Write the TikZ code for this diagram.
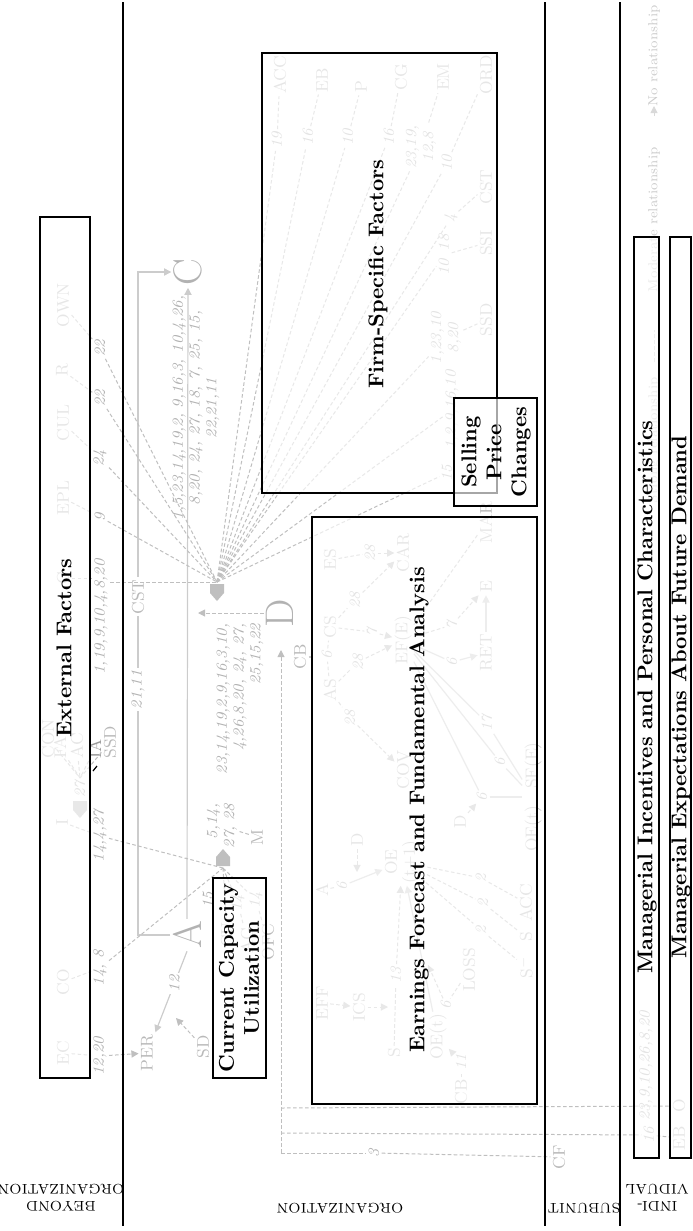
\documentclass[tikz,border=0pt]{standalone}
\usetikzlibrary{arrows.meta}
\begin{document}
\begin{tikzpicture}[x=0.5pt,y=-0.5pt,
	panel/.style={draw=black,line width=0.7pt,fill=white,fill opacity=0.65},
	heading/.style={rotate=90,font=\fontsize{10.7}{12.5}\selectfont\bfseries,align=center},
	band/.style={rotate=180,font=\fontsize{7}{8.4}\selectfont,align=center},
	bigvar/.style={rotate=90,text=gray!60,font=\fontsize{20}{20}\selectfont,inner sep=1pt},
	fac/.style={rotate=90,text=gray!55,font=\fontsize{8.5}{9}\selectfont,inner sep=1pt,align=center},
	refs/.style={rotate=90,text=gray!60,font=\fontsize{7.7}{8.4}\selectfont\itshape,inner sep=1pt,align=center},
	legend/.style={rotate=90,text=gray!40,font=\fontsize{6.6}{7}\selectfont,inner sep=0pt},
	modline/.style={gray!50,line width=0.5pt,dash pattern=on 1.8pt off 1.2pt},
	solidline/.style={gray!40,line width=0.6pt},
	arrowed/.style={-{Triangle[length=3.6pt,width=3.6pt]}},
	hubdown/.pic={\fill[gray!50] (-7,0) -- (7,0) -- (7,9) -- (0,17) -- (-7,9) -- cycle;},
]
\useasboundingbox (0,0) rectangle (692,1231);

% external factors
\node[fac] (OWN) at (63,305) {OWN};
\node[fac] (R) at (62,370) {R};
\node[fac] (CUL) at (63,423) {CUL};
\node[fac] (EPL) at (63,498) {EPL};
\node[fac] (GC) at (63,578) {C};
\node[fac,anchor=west] (CON) at (48,761) {CON};
\node[fac,anchor=west] (FA) at (60,761) {FA};
\node[fac,anchor=west] (AC) at (77,761) {AC};
\node[fac,anchor=west,text=gray!80] (IA) at (95,761) {IA};
\node[fac,anchor=west] (SSDx) at (110,761) {SSD};
\node[fac] (I) at (62,822) {I};
\node[fac] (CO) at (63,982) {CO};
\node[fac] (EC) at (63,1053) {EC};
\node[refs] (n22a) at (100,348) {22};
\node[refs] (n22b) at (100,398) {22};
\node[refs] (n24) at (100,458) {24};
\node[refs] (n9) at (100,517) {9};
\node[refs] (nGC) at (101,617) {1,19,9,10,4,8,20};
\node[refs] (n27) at (80,789) {27};
\node[refs] (n1427) at (100,836) {14,4,27};
\node[refs] (n148) at (100,968) {14, 8};
\node[refs] (n1220) at (100,1056) {12,20};
\coordinate (extHub) at (80,778);
\foreach \f in {CON,FA,AC,IA,SSDx} {\draw[modline] (\f) -- (extHub);}
\draw[black,line width=0.6pt] (97,766) -- (93,771);
\pic at (80,801) {hubdown};

% organization: main variables
\node[bigvar] (C) at (188,272) {C};
\node[bigvar] (A) at (187,935) {A};
\node[bigvar] (D) at (280,613) {D};
\coordinate (hub1) at (217,582);
\coordinate (hub2) at (223,868);
\coordinate (onAC) at (198,613);
\draw[solidline,arrowed] (A.north) -- (138,935) -- node[refs,fill=white,pos=0.37] (n2111) {21,11} node[fac,fill=white,pos=0.51] (cst) {CST} (138,272) -- (C.north);
\draw[solidline,arrowed] (A.east) -- (C.west);
\node[refs] (acnums) at (196,408) {1,5,23,14,19,2, 9,16,3, 10,4,26,\\8,20, 24, 27, 18, 7, 25, 15,\\22,21,11};
\draw[modline,arrowed] (D.north) -- (onAC);
\node[refs,align=right] (dnums) at (240,699) {23,14,19,2,9,16,3,10,\\4,26,8,20, 24, 27,\\25,15,22};
\pic at (217,584) {hubdown};

% links of the hub to the factors
\foreach \s/\f in {n22a/OWN,n22b/R,n24/CUL,n9/EPL} {
	\draw[modline] (\f) -- (\s);
	\draw[modline] (\s) -- (hub1);
}
\draw[modline] (GC) -- (GC -| nGC.north);
\draw[modline] (nGC.south |- hub1) -- (hub1);
\node[fac] (ACC) at (280,75) {ACC};
\node[fac] (EB) at (322,80) {EB};
\node[fac] (P) at (361,87) {P};
\node[fac] (CG) at (401,77) {CG};
\node[fac] (EM) at (443,77) {EM};
\node[fac] (ORD) at (486,75) {ORD};
\node[fac] (CSTf) at (486,187) {CST};
\node[fac] (SSI) at (486,243) {SSI};
\node[fac] (SSDf) at (486,320) {SSD};
\node[refs] (n19) at (277,140) {19};
\node[refs] (n16a) at (308,137) {16};
\node[refs] (n10a) at (348,137) {10};
\node[refs] (n16b) at (389,137) {16};
\node[refs] (nEM) at (421,147) {23,19,\\12,8};
\node[refs] (n10b) at (447,163) {10};
\node[refs] (n4) at (451,218) {4};
\node[refs] (n1018) at (444,255) {10\enspace 18};
\node[refs] (nSSD) at (446,338) {1,23,10\\8,20};
\node[refs] (nSP1) at (452,410) {1,2,9,16,10};
\node[refs] (nSP2) at (447,473) {15};
\foreach \s/\f in {n19/ACC,n16a/EB,n10a/P,n16b/CG,nEM/EM,n10b/ORD,n4/CSTf,n1018/SSI,nSSD/SSDf} {
	\draw[modline] (hub1) -- (\s);
	\draw[modline] (\s) -- (\f);
}
\draw[modline] (hub1) -- (nSP1);
\draw[modline] (hub1) -- (nSP2);

% current capacity utilization side
\node[fac] (PER) at (147,1053) {PER};
\node[fac] (SD) at (203,1047) {SD};
\coordinate (onPER) at (176,1018);
\draw[modline] (EC) -- (n1220);
\draw[modline,arrowed] (n1220) -- (PER);
\draw[solidline,arrowed] (A.west) -- node[refs,fill=white,pos=0.4] (n12) {12} (PER.south east);
\draw[modline,arrowed] (SD) -- (onPER);
\draw[modline] (I) -- (n1427);
\draw[modline] (n1427) -- (hub2);
\draw[modline] (CO) -- (n148);
\draw[modline] (n148) -- (hub2);
\pic[rotate=180] at (223,866) {hubdown};
\node[fac] (CU) at (227,935) {CU};
\node[fac] (AG) at (247,940) {AG};
\node[fac] (OFC) at (268,942) {OFC};
\node[refs] (n15) at (208,900) {15};
\node[refs] (n14a) at (238,903) {14};
\node[refs] (n14b) at (256,900) {14};
\draw[modline] (hub2) -- (n14a);
\draw[modline] (n14a) -- (AG);
\draw[modline] (hub2) -- (n14b);
\draw[modline] (n14b) -- (OFC);
\draw[modline] (hub2) -- (CU);
\node[refs,align=right] (n5) at (222,826) {5,14,\\27, 28};
\node[fac] (M) at (257,837) {M};
\draw[modline] (M) -- (n5);

% links from below
\node[fac] (CB) at (300,657) {CB};
\draw[solidline] (CB) -- (312,657);
\coordinate (jA) at (281,1108);
\coordinate (jB) at (281,1133);
\coordinate (jC) at (281,1153);
\coordinate (dIn) at (281,650);
\draw[modline,arrowed] (jC) -- (dIn);
\node[fac] (O) at (679,1106) {O};
\node[fac] (EBi) at (679,1138) {EB};
\node[fac] (CF) at (559,1157) {CF};
\node[refs] (ni1) at (646,1066) {23,9,10,26,8,20};
\node[refs] (ni2) at (649,1135) {16};
\node[refs] (n3) at (374,1153) {3};
\draw[modline] (jA) -- (O);
\draw[modline] (jB) -- (ni2);
\draw[modline] (ni2) -- (EBi);
\draw[modline] (jC) -- (n3);
\draw[modline] (n3) -- (CF);

% earnings forecast details
\node[fac] (ES) at (330,560) {ES};
\node[fac] (CS) at (330,627) {CS};
\node[fac] (AS) at (330,690) {AS};
\node[fac] (CAR) at (403,553) {CAR};
\node[fac] (EFE) at (403,640) {EF(E)};
\node[fac] (COV) at (403,770) {COV};
\node[fac] (MAR) at (486,523) {MAR};
\node[fac] (E) at (486,587) {E};
\node[fac] (RET) at (486,653) {RET};
\node[fac] (Dr) at (460,822) {D};
\node[fac] (OESF) at (533,797) {OE(t)\quad SF(E)};
\node[fac] (Ae) at (322,890) {A};
\node[fac] (De) at (357,840) {D};
\node[fac] (OE1) at (402,862) {OE\\(t+1)};
\node[fac] (EFF) at (322,1003) {EFF};
\node[fac] (ICS) at (359,1007) {ICS};
\node[fac] (Se) at (394,1053) {S};
\node[fac] (OEt) at (438,1037) {OE(t)};
\node[fac] (LOSS) at (469,970) {LOSS};
\node[fac] (CBe) at (461,1092) {CB};
\node[fac] (ACCe) at (526,903) {ACC};
\node[fac] (Sp) at (526,937) {S};
\node[fac] (Sm) at (526,967) {S$^{-}$};
\node[refs] (e28a) at (370,553) {28};
\node[refs] (e28b) at (355,600) {28};
\node[refs] (e7a) at (372,632) {7};
\node[refs] (e28c) at (358,662) {28};
\node[refs] (e28d) at (350,718) {28};
\node[refs] (e6a) at (327,655) {6};
\node[refs] (e6b) at (452,662) {6};
\node[refs] (e7b) at (452,625) {7};
\node[refs] (e17) at (487,723) {17};
\node[refs] (e6c) at (500,762) {6};
\node[refs] (e6d) at (482,797) {6};
\node[refs] (e6e) at (342,886) {6};
\node[refs] (e13) at (396,975) {13};
\node[refs] (e6f) at (446,1005) {6};
\node[refs] (e11) at (461,1062) {11};
\node[refs] (e2a) at (481,878) {2};
\node[refs] (e2b) at (483,903) {2};
\node[refs] (e2c) at (481,930) {2};
\coordinate (onAOE) at (357,872);
\coordinate (onSOE) at (388,1007);
\coordinate (onOE) at (428,965);
\foreach \a/\n/\b in {ES/e28a/CAR,CS/e28b/CAR,CS/e7a/EFE,AS/e28c/EFE,AS/e28d/COV,EFE/e7b/E,Se/e13/OE1,CBe/e11/OEt} {
	\draw[modline] (\a) -- (\n);
	\draw[modline,arrowed] (\n) -- (\b);
}
\draw[modline] (AS) -- (e6a);
\draw[modline] (e6a) -- (CS);
\draw[solidline] (EFE) -- (e6b);
\draw[solidline,arrowed] (e6b) -- (RET);
\draw[solidline,arrowed] (RET) -- (E);
\draw[modline] (MAR) -- (EFE);
\foreach \n in {e17,e6c,e6d} {
	\draw[solidline] (EFE) -- (\n);
	\draw[solidline] (\n) -- (OESF);
}
\draw[modline,arrowed] (Dr) -- (e6d);
\draw[modline] (Ae) -- (e6e);
\draw[solidline,arrowed] (e6e) -- (OE1);
\draw[modline,arrowed] (De) -- (onAOE);
\draw[modline,arrowed] (EFF) -- (ICS);
\draw[modline,arrowed] (ICS) -- (onSOE);
\draw[solidline,arrowed] (OEt) -- (OE1);
\draw[modline] (LOSS) -- (e6f);
\draw[modline,arrowed] (e6f) -- (onOE);
\foreach \n/\b in {e2a/ACCe,e2b/Sp,e2c/Sm} {
	\draw[modline] (OE1) -- (\n);
	\draw[modline] (\n) -- (\b);
}

% legend
\node[legend,anchor=east] (lgno) at (654,5) {No relationship};
\draw[gray!30,line width=0.5pt,arrowed] (654,116) -- (654,106);
\node[legend,anchor=east] (lgmod) at (654,147) {Moderate relationship};
\draw[modline,gray!35] (654,362) -- (654,330);
\node[legend,anchor=east] (lgstr) at (654,377) {Strong relationship};

% boxes
\draw[panel] (40,217) rectangle (90,1078);
\node[heading] (ext) at (64,648) {External Factors};
\draw[panel] (262,53) rectangle (497,493);
\node[heading] (firm) at (378,274) {Firm-Specific Factors};
\draw[panel] (312,517) rectangle (537,1104);
\node[heading] (earn) at (419,810) {Earnings Forecast and Fundamental Analysis};
\draw[panel] (213,878) rectangle (266,1078);
\node[heading] (ccu) at (239,978) {Current Capacity\\Utilization};
\draw[panel] (454,398) rectangle (537,506);
\node[heading] (sp) at (496,452) {Selling\\Price\\Changes};
\draw[panel] (634,237) rectangle (659,1158);
\node[heading] (inc) at (647,697) {Managerial Incentives and Personal Characteristics};
\draw[panel] (670,237) rectangle (691,1158);
\node[heading] (exp) at (681,697) {Managerial Expectations About Future Demand};

% bands
\draw[line width=0.7pt] (123,2) -- (123,1226);
\draw[line width=0.7pt] (545,2) -- (545,1226);
\draw[line width=0.7pt] (620,2) -- (620,1226);
\node[band] (bbeyond) at (61,1198) {BEYOND\\ORGANIZATION};
\node[band] (borg) at (340,1208) {ORGANIZATION};
\node[band] (bsub) at (584,1208) {SUBUNIT};
\node[band] (bind) at (657,1198) {INDI-\\VIDUAL};
\end{tikzpicture}
\end{document}
